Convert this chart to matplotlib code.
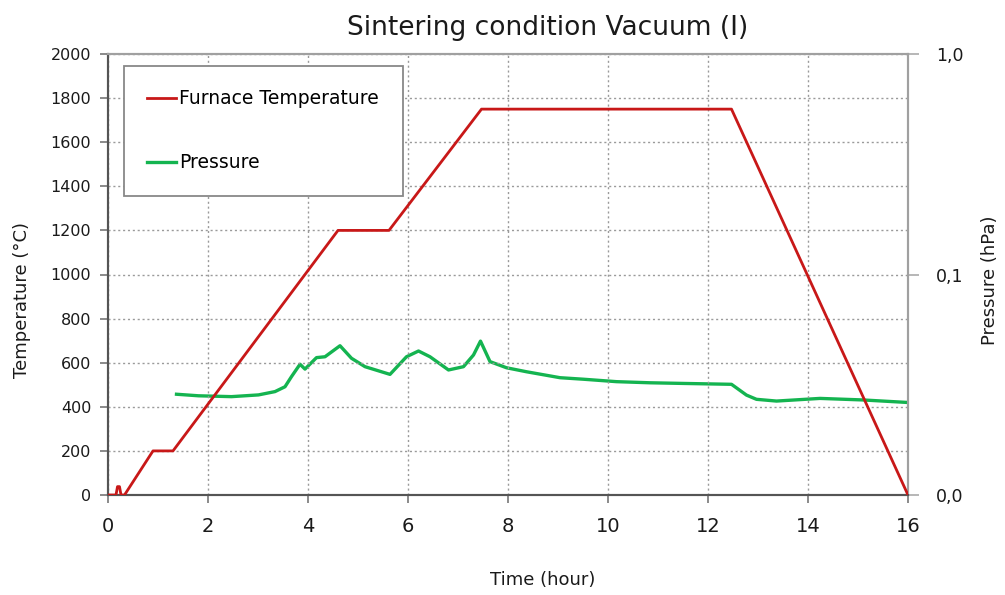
import matplotlib
matplotlib.use("Agg")
import matplotlib.pyplot as plt
from matplotlib.ticker import FixedLocator, FuncFormatter, NullLocator

# Furnace temperature profile (time in hours, temperature in degC)
temp_time = [0.0, 0.16, 0.19, 0.23, 0.26, 0.33, 0.90, 1.30, 4.60, 5.62, 7.47, 12.47, 16.0]
temp_vals = [0, 0, 38, 38, 0, 0, 200, 200, 1200, 1200, 1750, 1750, 0]

# Chamber pressure (time in hours, pressure in hPa, log axis)
pres_time = [1.37, 1.81, 2.47, 3.01, 3.34, 3.54, 3.67, 3.84, 3.94, 4.17,
             4.34, 4.64, 4.87, 5.14, 5.64, 5.97, 6.21, 6.44, 6.81, 7.11,
             7.31, 7.45, 7.64, 7.97, 8.37, 9.04, 9.51, 10.17, 10.84, 11.51,
             12.47, 12.77, 12.97, 13.37, 14.24, 15.10, 15.97]
pres_vals = [0.02864, 0.02818, 0.02793, 0.02844, 0.02944, 0.03097, 0.03443,
             0.03917, 0.03724, 0.04198, 0.04236, 0.04753, 0.04169, 0.03819,
             0.03524, 0.04236, 0.04498, 0.04236, 0.03690, 0.03819, 0.04315,
             0.04989, 0.04027, 0.03776, 0.03622, 0.03404, 0.03350, 0.03266,
             0.03228, 0.03206, 0.03177, 0.02838, 0.02716, 0.02667, 0.02742,
             0.02698, 0.02630]

x_ticks = [0, 2, 4, 6, 8, 10, 12, 14, 16]
y_ticks = list(range(0, 2001, 200))
p_ticks = [0.01, 0.1, 1.0]

RED = "#c81818"
GREEN = "#14b450"
GRID = "#9a9a9a"
TEXT = "#1a1a1a"

fig = plt.figure(figsize=(10.05, 5.95), dpi=100)
ax = fig.add_axes([108 / 1005, 1 - 495 / 595, 800 / 1005, 441 / 595])
ax2 = ax.twinx()

l1, = ax.plot(temp_time, temp_vals, color=RED, lw=2.0, label="Furnace Temperature", zorder=4)
l2, = ax2.plot(pres_time, pres_vals, color=GREEN, lw=2.4, label="Pressure", zorder=4)

ax.set_xlim(0, 16)
ax.set_ylim(0, 2000)
ax.set_xticks(x_ticks)
ax.set_yticks(y_ticks)
ax.grid(True, ls=(0, (1.5, 2)), color=GRID, lw=1.0)
ax.set_axisbelow(True)

ax2.set_yscale("log")
ax2.set_ylim(0.01, 1.0)
ax2.yaxis.set_major_locator(FixedLocator(p_ticks))
ax2.yaxis.set_minor_locator(NullLocator())
ax2.yaxis.set_major_formatter(FuncFormatter(lambda v, pos: f"{v:.1f}".replace(".", ",")))

ax.tick_params(axis="x", labelsize=14, length=6, width=1.2, color="#777777", labelcolor=TEXT, pad=10)
ax.tick_params(axis="y", labelsize=11.5, length=6, width=1.2, color="#777777", labelcolor=TEXT, pad=6)
ax2.tick_params(axis="y", labelsize=12.5, length=8, width=1.2, color="#aaaaaa", labelcolor=TEXT, pad=12)

for a in (ax, ax2):
    for name, sp in a.spines.items():
        sp.set_linewidth(1.5)
        sp.set_color("#555555" if name in ("left", "bottom") else "#a0a0a0")

fig.text(548 / 1005, 1 - 28 / 595, "Sintering condition Vacuum (I)", fontsize=19,
         ha="center", va="center", color=TEXT)
fig.text(543 / 1005, 1 - 580 / 595, "Time (hour)", fontsize=13,
         ha="center", va="center", color=TEXT)
fig.text(22 / 1005, 1 - 300 / 595, "Temperature (\u00b0C)", fontsize=13, rotation=90,
         ha="center", va="center", color=TEXT)
fig.text(990 / 1005, 1 - 280 / 595, "Pressure (hPa)", fontsize=13, rotation=90,
         ha="center", va="center", color=TEXT)

leg = ax.legend(handles=[l1, l2], loc="upper left", bbox_to_anchor=(0.02, 0.973),
                fontsize=13.5, frameon=True, fancybox=False, framealpha=1,
                edgecolor="#888888", handlelength=1.5, handletextpad=0.2,
                labelspacing=2.4, borderpad=1.25, borderaxespad=0)
leg.get_frame().set_linewidth(1.3)
leg.set_zorder(10)
ax.set_zorder(ax2.get_zorder() + 1)
ax.patch.set_visible(False)

fig.savefig("out.png", dpi=100)
